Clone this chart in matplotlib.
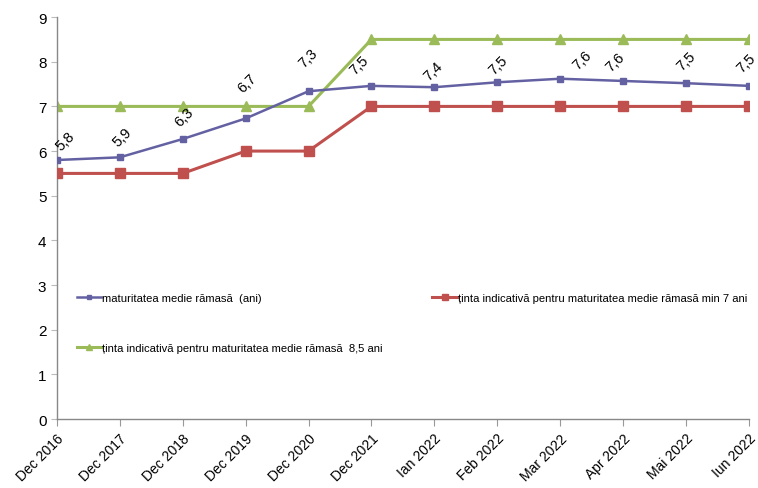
import matplotlib
matplotlib.use("Agg")
import matplotlib.pyplot as plt

plt.rcParams["font.family"] = ["Liberation Sans", "DejaVu Sans"]

# Data
categories = ["Dec 2016", "Dec 2017", "Dec 2018", "Dec 2019", "Dec 2020", "Dec 2021",
              "Ian 2022", "Feb 2022", "Mar 2022", "Apr 2022", "Mai 2022", "Iun 2022"]
maturitate = [5.80, 5.86, 6.27, 6.73, 7.34, 7.46, 7.43, 7.54, 7.62, 7.57, 7.52, 7.46]
maturitate_labels = ["5,8", "5,9", "6,3", "6,7", "7,3", "7,5",
                     "7,4", "7,5", "7,6", "7,6", "7,5", "7,5"]
tinta_7 = [5.5, 5.5, 5.5, 6, 6, 7, 7, 7, 7, 7, 7, 7]
tinta_85 = [7, 7, 7, 7, 7, 8.5, 8.5, 8.5, 8.5, 8.5, 8.5, 8.5]

# label offsets in points (dx, dy)
label_offsets = [(6, 14), (2, 15), (1, 16), (1, 26), (0, 24), (-9, 15),
                 (-1, 12), (1, 13), (16, 14), (-6, 14), (0, 16), (-2, 17)]

BLUE = "#6461A3"
RED = "#C0504D"
GREEN = "#9BBB59"

fig = plt.figure(figsize=(7.58, 4.89), dpi=100)
ax = fig.add_axes([0.075, 0.141, 0.913, 0.822])

x = list(range(len(categories)))

l1, = ax.plot(x, maturitate, color=BLUE, lw=1.8, marker="s", ms=4,
              label="maturitatea medie rămasă  (ani)", zorder=4)
l2, = ax.plot(x, tinta_7, color=RED, lw=2.2, marker="s", ms=7,
              label="ținta indicativă pentru maturitatea medie rămasă min 7 ani", zorder=3)
l3, = ax.plot(x, tinta_85, color=GREEN, lw=2.2, marker="^", ms=7,
              label="ținta indicativă pentru maturitatea medie rămasă  8,5 ani", zorder=2)

for xi, yi, txt, off in zip(x, maturitate, maturitate_labels, label_offsets):
    ax.annotate(txt, (xi, yi), xytext=off, textcoords="offset points",
                rotation=45, ha="center", va="center", fontsize=10.5)

ax.set_xlim(0, len(categories) - 1)
ax.set_ylim(0, 9)
ax.set_yticks(range(0, 10))
ax.set_xticks(x)
ax.set_xticklabels(categories, rotation=45, ha="right", rotation_mode="anchor",
                   fontsize=10)
ax.tick_params(axis="y", labelsize=11, length=4, color="#BBBBBB")
ax.tick_params(axis="x", length=5, color="#999999")

for s in ["top", "right"]:
    ax.spines[s].set_visible(False)
for s in ["left", "bottom"]:
    ax.spines[s].set_color("#888888")
    ax.spines[s].set_linewidth(1)

ax.legend(handles=[l1, l3, l2], ncol=2, frameon=False, fontsize=8.1,
          loc="upper left", bbox_to_anchor=(0.022, 0.325),
          handlelength=2.2, handletextpad=0.1, columnspacing=4.4,
          labelspacing=3.6, markerscale=0.6, borderaxespad=0)

fig.savefig("out.png", dpi=100, facecolor="white")
